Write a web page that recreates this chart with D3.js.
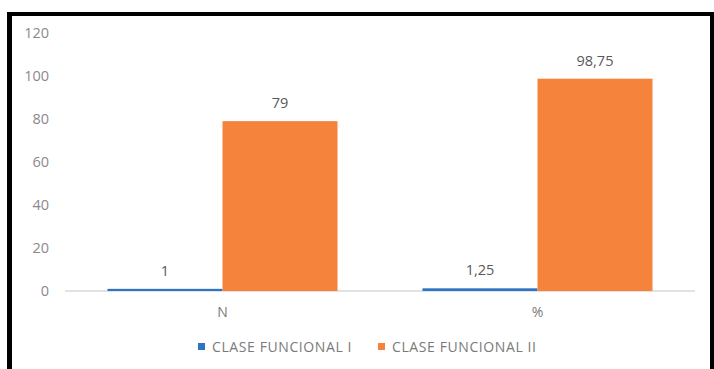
<!DOCTYPE html>
<html>
<head>
<meta charset="utf-8">
<script src="https://cdn.jsdelivr.net/npm/d3@7"></script>
<style>
  html, body { margin: 0; padding: 0; background: #fff; }
  svg { display: block; }
  text { font-family: "Open Sans", "Noto Sans", sans-serif; }
</style>
</head>
<body>
<svg id="chart" width="714" height="369"></svg>
<script>
// Categories, series and tick values
const categories = ["N", "%"];
const seriesNames = ["CLASE FUNCIONAL I", "CLASE FUNCIONAL II"];
const claseI = [1, 1.25];
const claseII = [79, 98.75];
const yTicks = [0, 20, 40, 60, 80, 100, 120];
const seriesColors = ["#2E74C4", "#F5833C"];

const svg = d3.select("#chart");
const W = 714, H = 369;

// Frame: thick black border on left, top and right
svg.append("rect").attr("x", 0).attr("y", 0).attr("width", W).attr("height", H).attr("fill", "#fff");
svg.append("rect").attr("x", 7).attr("y", 12).attr("width", 5).attr("height", H - 12).attr("fill", "#000");
svg.append("rect").attr("x", 7).attr("y", 12).attr("width", W - 7).attr("height", 4).attr("fill", "#000");
svg.append("rect").attr("x", 710).attr("y", 12).attr("width", 4).attr("height", H - 12).attr("fill", "#000");

const plot = { left: 65, right: 695, top: 33, bottom: 291 };

const x0 = d3.scaleBand().domain(categories).range([plot.left, plot.right]).paddingInner(0).paddingOuter(0);
const x1 = d3.scaleBand().domain(seriesNames).range([0, 230]);
const y = d3.scaleLinear().domain([0, 120]).range([plot.bottom, plot.top]);

// Y axis labels
svg.append("g").selectAll("text").data(yTicks).join("text")
  .attr("x", 49).attr("y", d => y(d)).attr("dy", "0.35em")
  .attr("text-anchor", "end").attr("font-size", 14.5).attr("fill", "#8a8a8a")
  .text(d => d);

// Baseline
svg.append("line").attr("x1", plot.left).attr("x2", plot.right)
  .attr("y1", y(0)).attr("y2", y(0)).attr("stroke", "#d9d9d9").attr("stroke-width", 1.3);

const fmt = v => String(v).replace(".", ",");
const rows = categories.map((c, i) => ({ cat: c, vals: [claseI[i], claseII[i]] }));

const groups = svg.append("g").selectAll("g").data(rows).join("g")
  .attr("transform", d => `translate(${x0(d.cat) + x0.bandwidth() / 2 - 115},0)`);

groups.selectAll("rect").data(d => d.vals.map((v, j) => ({ v, s: seriesNames[j], j }))).join("rect")
  .attr("x", d => x1(d.s)).attr("width", x1.bandwidth())
  .attr("y", d => y(d.v)).attr("height", d => y(0) - y(d.v))
  .attr("fill", d => seriesColors[d.j]);

groups.selectAll("text").data(d => d.vals.map((v, j) => ({ v, s: seriesNames[j] }))).join("text")
  .attr("x", d => x1(d.s) + x1.bandwidth() / 2)
  .attr("y", d => y(d.v) - 13)
  .attr("text-anchor", "middle").attr("font-size", 14.5).attr("fill", "#595959")
  .text(d => fmt(d.v));

// Category labels
svg.append("g").selectAll("text").data(categories).join("text")
  .attr("x", d => x0(d) + x0.bandwidth() / 2).attr("y", 312).attr("dy", "0.35em")
  .attr("text-anchor", "middle").attr("font-size", 14).attr("fill", "#7a7a7a")
  .text(d => d);

// Legend
const legendX = [198, 378];
const legend = svg.append("g").selectAll("g").data(seriesNames).join("g")
  .attr("transform", (d, i) => `translate(${legendX[i]},343)`);
legend.append("rect").attr("width", 7).attr("height", 7).attr("fill", (d, i) => seriesColors[i]);
legend.append("text").attr("x", 14).attr("y", 4).attr("dy", "0.35em")
  .attr("font-size", 14).attr("letter-spacing", 0.6).attr("fill", "#7a7a7a").text(d => d);
</script>
</body>
</html>
